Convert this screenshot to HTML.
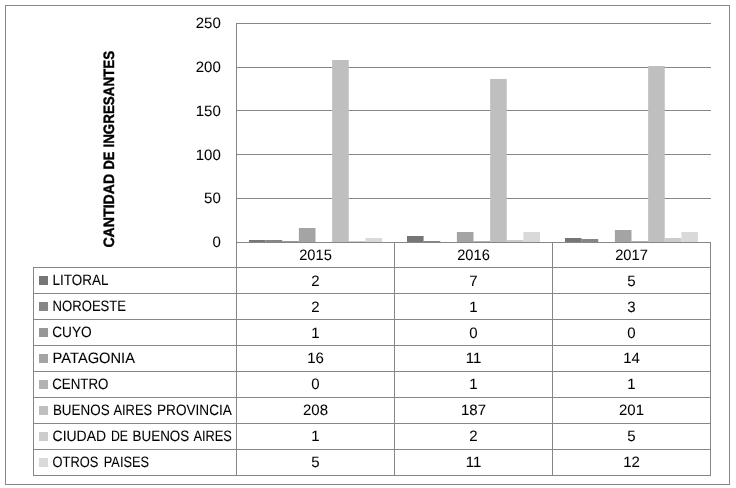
<!DOCTYPE html>
<html lang="es"><head><meta charset="utf-8"><title>Cantidad de ingresantes</title>
<style>html,body{margin:0;padding:0;background:#fff}body{width:736px;height:488px;overflow:hidden}svg{display:block}text{text-rendering:geometricPrecision;font-family:"Liberation Sans",Arial,sans-serif;font-size:15.0px;fill:#000;stroke:#000;stroke-width:.05px}.lb{stroke-width:.08px}.ti{stroke-width:.4px}.l{fill:#868686;shape-rendering:crispEdges}.b{shape-rendering:crispEdges}</style></head><body>
<svg width="736" height="488" viewBox="0 0 736 488">
<rect width="736" height="488" fill="#fff"/>
<rect x="5.5" y="5.5" width="724" height="479" fill="none" stroke="#868686" stroke-width="1" class="b"/>
<rect class="l" x="236" y="23" width="475" height="1"/>
<rect class="l" x="236" y="67" width="475" height="1"/>
<rect class="l" x="236" y="110" width="475" height="1"/>
<rect class="l" x="236" y="154" width="475" height="1"/>
<rect class="l" x="236" y="198" width="475" height="1"/>
<rect class="l" x="236" y="242" width="475" height="1"/>
<rect x="248.97" y="240" width="16.63" height="2.5" fill="#767676"/>
<rect x="265.61" y="240" width="16.63" height="2.5" fill="#868686"/>
<rect x="282.24" y="241" width="16.63" height="1.5" fill="#979797"/>
<rect x="298.87" y="228" width="16.63" height="14.5" fill="#a4a4a4"/>
<rect x="332.13" y="60" width="16.63" height="182.5" fill="#bfbfbf"/>
<rect x="348.76" y="241" width="16.63" height="1.5" fill="#cccccc"/>
<rect x="365.39" y="238" width="16.63" height="4.5" fill="#d9d9d9"/>
<rect x="406.97" y="236" width="16.63" height="6.5" fill="#767676"/>
<rect x="423.61" y="241" width="16.63" height="1.5" fill="#868686"/>
<rect x="456.87" y="232" width="16.63" height="10.5" fill="#a4a4a4"/>
<rect x="473.50" y="241" width="16.63" height="1.5" fill="#b2b2b2"/>
<rect x="490.13" y="79" width="16.63" height="163.5" fill="#bfbfbf"/>
<rect x="506.76" y="240" width="16.63" height="2.5" fill="#cccccc"/>
<rect x="523.39" y="232" width="16.63" height="10.5" fill="#d9d9d9"/>
<rect x="564.97" y="238" width="16.63" height="4.5" fill="#767676"/>
<rect x="581.61" y="239" width="16.63" height="3.5" fill="#868686"/>
<rect x="614.87" y="230" width="16.63" height="12.5" fill="#a4a4a4"/>
<rect x="631.50" y="241" width="16.63" height="1.5" fill="#b2b2b2"/>
<rect x="648.13" y="66" width="16.63" height="176.5" fill="#bfbfbf"/>
<rect x="664.76" y="238" width="16.63" height="4.5" fill="#cccccc"/>
<rect x="681.39" y="232" width="16.63" height="10.5" fill="#d9d9d9"/>
<rect class="l" x="236" y="242" width="475" height="1"/>
<rect class="l" x="236" y="23" width="1" height="453"/>
<rect class="l" x="394" y="242" width="1" height="234"/>
<rect class="l" x="552" y="242" width="1" height="234"/>
<rect class="l" x="710" y="242" width="1" height="234"/>
<rect class="l" x="33" y="267" width="1" height="209"/>
<rect class="l" x="33" y="267" width="678" height="1"/>
<rect class="l" x="33" y="293" width="678" height="1"/>
<rect class="l" x="33" y="319" width="678" height="1"/>
<rect class="l" x="33" y="345" width="678" height="1"/>
<rect class="l" x="33" y="371" width="678" height="1"/>
<rect class="l" x="33" y="397" width="678" height="1"/>
<rect class="l" x="33" y="423" width="678" height="1"/>
<rect class="l" x="33" y="449" width="678" height="1"/>
<rect class="l" x="33" y="475" width="678" height="1"/>
<text x="220.8" y="27.8" text-anchor="end">250</text>
<text x="220.8" y="71.8" text-anchor="end">200</text>
<text x="220.8" y="115.6" text-anchor="end">150</text>
<text x="220.8" y="159.6" text-anchor="end">100</text>
<text x="220.8" y="202.8" text-anchor="end">50</text>
<text x="220.8" y="246.8" text-anchor="end">0</text>
<text class="ti" transform="translate(113.8,0) rotate(-90)" font-weight="bold" font-size="16.2"><tspan x="-247.6" textLength="73.8" lengthAdjust="spacingAndGlyphs">CANTIDAD</tspan> <tspan x="-169.6" textLength="17.8" lengthAdjust="spacingAndGlyphs">DE</tspan> <tspan x="-147.5" textLength="96.6" lengthAdjust="spacingAndGlyphs">INGRESANTES</tspan></text>
<text x="315.5" y="259.85" text-anchor="middle" textLength="32.6" lengthAdjust="spacingAndGlyphs">2015</text>
<text x="473.5" y="259.85" text-anchor="middle" textLength="32.6" lengthAdjust="spacingAndGlyphs">2016</text>
<text x="631.5" y="259.85" text-anchor="middle" textLength="32.6" lengthAdjust="spacingAndGlyphs">2017</text>
<rect class="b" x="39" y="276" width="9" height="9" fill="#767676"/>
<text class="lb" y="284.9" font-size="15.9"><tspan x="52.6" textLength="55.8" lengthAdjust="spacingAndGlyphs">LITORAL</tspan></text>
<text x="315.5" y="285.9" text-anchor="middle">2</text>
<text x="473.5" y="285.9" text-anchor="middle">7</text>
<text x="631.5" y="285.9" text-anchor="middle">5</text>
<rect class="b" x="39" y="302" width="9" height="9" fill="#868686"/>
<text class="lb" y="310.9" font-size="15.9"><tspan x="52.6" textLength="73.5" lengthAdjust="spacingAndGlyphs">NOROESTE</tspan></text>
<text x="315.5" y="311.9" text-anchor="middle">2</text>
<text x="473.5" y="311.9" text-anchor="middle">1</text>
<text x="631.5" y="311.9" text-anchor="middle">3</text>
<rect class="b" x="39" y="328" width="9" height="9" fill="#979797"/>
<text class="lb" y="336.9" font-size="15.9"><tspan x="52.2" textLength="39.5" lengthAdjust="spacingAndGlyphs">CUYO</tspan></text>
<text x="315.5" y="337.9" text-anchor="middle">1</text>
<text x="473.5" y="337.9" text-anchor="middle">0</text>
<text x="631.5" y="337.9" text-anchor="middle">0</text>
<rect class="b" x="39" y="354" width="9" height="9" fill="#a4a4a4"/>
<text class="lb" y="362.9" font-size="15.9"><tspan x="52.6" textLength="82.4" lengthAdjust="spacingAndGlyphs">PATAGONIA</tspan></text>
<text x="315.5" y="362.9" text-anchor="middle">16</text>
<text x="473.5" y="362.9" text-anchor="middle">11</text>
<text x="631.5" y="362.9" text-anchor="middle">14</text>
<rect class="b" x="39" y="380" width="9" height="9" fill="#b2b2b2"/>
<text class="lb" y="388.9" font-size="15.9"><tspan x="52.2" textLength="56.2" lengthAdjust="spacingAndGlyphs">CENTRO</tspan></text>
<text x="315.5" y="388.9" text-anchor="middle">0</text>
<text x="473.5" y="388.9" text-anchor="middle">1</text>
<text x="631.5" y="388.9" text-anchor="middle">1</text>
<rect class="b" x="39" y="406" width="9" height="9" fill="#bfbfbf"/>
<text class="lb" y="414.9" font-size="15.9"><tspan x="52.9" textLength="56.7" lengthAdjust="spacingAndGlyphs">BUENOS</tspan> <tspan x="113.4" textLength="38.7" lengthAdjust="spacingAndGlyphs">AIRES</tspan> <tspan x="157.0" textLength="74.9" lengthAdjust="spacingAndGlyphs">PROVINCIA</tspan></text>
<text x="315.5" y="414.9" text-anchor="middle">208</text>
<text x="473.5" y="414.9" text-anchor="middle">187</text>
<text x="631.5" y="414.9" text-anchor="middle">201</text>
<rect class="b" x="39" y="432" width="9" height="9" fill="#cccccc"/>
<text class="lb" y="440.9" font-size="15.9"><tspan x="52.6" textLength="53.5" lengthAdjust="spacingAndGlyphs">CIUDAD</tspan> <tspan x="111.0" textLength="17.0" lengthAdjust="spacingAndGlyphs">DE</tspan> <tspan x="132.6" textLength="56.6" lengthAdjust="spacingAndGlyphs">BUENOS</tspan> <tspan x="193.4" textLength="38.5" lengthAdjust="spacingAndGlyphs">AIRES</tspan></text>
<text x="315.5" y="440.9" text-anchor="middle">1</text>
<text x="473.5" y="440.9" text-anchor="middle">2</text>
<text x="631.5" y="440.9" text-anchor="middle">5</text>
<rect class="b" x="39" y="458" width="9" height="9" fill="#d9d9d9"/>
<text class="lb" y="466.9" font-size="15.9"><tspan x="52.6" textLength="45.8" lengthAdjust="spacingAndGlyphs">OTROS</tspan> <tspan x="103.8" textLength="45.2" lengthAdjust="spacingAndGlyphs">PAISES</tspan></text>
<text x="315.5" y="466.9" text-anchor="middle">5</text>
<text x="473.5" y="466.9" text-anchor="middle">11</text>
<text x="631.5" y="466.9" text-anchor="middle">12</text>
</svg></body></html>
